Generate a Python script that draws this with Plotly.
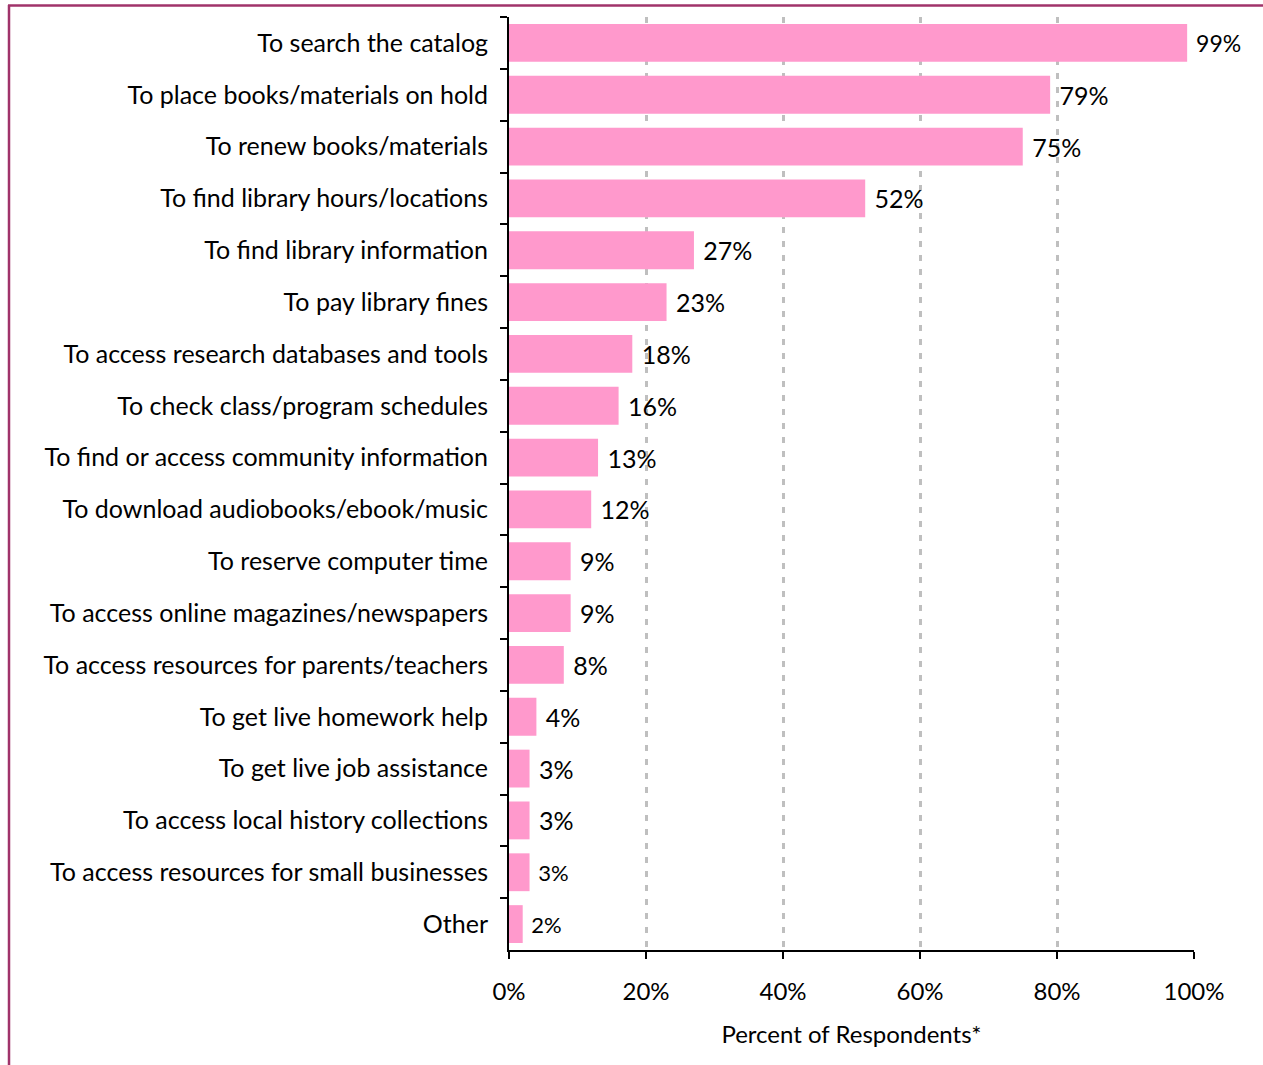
import plotly.graph_objects as go

categories = [
    "To search the catalog",
    "To place books/materials on hold",
    "To renew books/materials",
    "To find library hours/locations",
    "To find library information",
    "To pay library fines",
    "To access research databases and tools",
    "To check class/program schedules",
    "To find or access community information",
    "To download audiobooks/ebook/music",
    "To reserve computer time",
    "To access online magazines/newspapers",
    "To access resources for parents/teachers",
    "To get live homework help",
    "To get live job assistance",
    "To access local history collections",
    "To access resources for small businesses",
    "Other",
]
values = [0.99, 0.79, 0.75, 0.52, 0.27, 0.23, 0.18, 0.16, 0.13, 0.12,
          0.09, 0.09, 0.08, 0.04, 0.03, 0.03, 0.03, 0.02]
label_sizes = [23, 25, 25, 25, 25, 25, 25, 25, 25, 25, 25, 25, 25, 25, 25, 25, 22, 22]
x_ticks = [0, 0.2, 0.4, 0.6, 0.8, 1.0]
x_tick_labels = ["0%", "20%", "40%", "60%", "80%", "100%"]

FONT = "Lato"
BORDER = "#A0336A"

fig = go.Figure(go.Bar(
    x=values,
    y=categories,
    orientation="h",
    marker=dict(color="#FF99CC", line=dict(width=0)),
    text=["\u00a0" + f"{round(v*100)}%" for v in values],
    textposition="outside",
    textfont=dict(family=FONT, size=label_sizes, color="black"),
    cliponaxis=False,
))

W, H = 1263, 1065
L, R, T, B = 509, 69, 17, 115
pw, ph = W - L - R, H - T - B

def px_to_paper_x(px):
    return (px - L) / pw

def px_to_paper_y(py):
    return (H - B - py) / ph

fig.update_layout(
    width=W, height=H,
    margin=dict(l=L, r=R, t=T, b=B),
    paper_bgcolor="white",
    plot_bgcolor="white",
    bargap=0.27,
    showlegend=False,
    font=dict(family=FONT, size=24, color="black"),
    xaxis=dict(
        range=[0, 1.0],
        tickvals=x_ticks,
        ticktext=x_tick_labels,
        tickfont=dict(family=FONT, size=24),
        ticklabelstandoff=12,
        showgrid=True,
        gridcolor="#BFBFBF",
        griddash="6px,8px",
        gridwidth=2.5,
        showline=True,
        linecolor="black",
        linewidth=2,
        ticks="outside",
        ticklen=7,
        tickwidth=2,
        tickcolor="black",
        zeroline=False,
        title=dict(text="Percent of Respondents*", font=dict(family=FONT, size=24), standoff=22),
        fixedrange=True,
    ),
    yaxis=dict(
        autorange="reversed",
        categoryorder="array",
        categoryarray=categories,
        tickson="boundaries",
        ticks="outside",
        ticklen=7,
        tickwidth=2,
        tickcolor="black",
        showline=True,
        linecolor="black",
        linewidth=2,
        tickfont=dict(family=FONT, size=25),
        ticklabelstandoff=14,
        showgrid=False,
        fixedrange=True,
    ),
    shapes=[
        dict(type="line", xref="paper", yref="paper",
             x0=px_to_paper_x(8), x1=px_to_paper_x(1263),
             y0=px_to_paper_y(5.5), y1=px_to_paper_y(5.5),
             line=dict(color=BORDER, width=2.5)),
        dict(type="line", xref="paper", yref="paper",
             x0=px_to_paper_x(9), x1=px_to_paper_x(9),
             y0=px_to_paper_y(5), y1=px_to_paper_y(1065),
             line=dict(color=BORDER, width=2.5)),
    ],
)

fig.write_html(
    "out.html",
    config={"displayModeBar": False},
    post_script="document.body.style.margin='0';document.body.style.padding='0';",
)
